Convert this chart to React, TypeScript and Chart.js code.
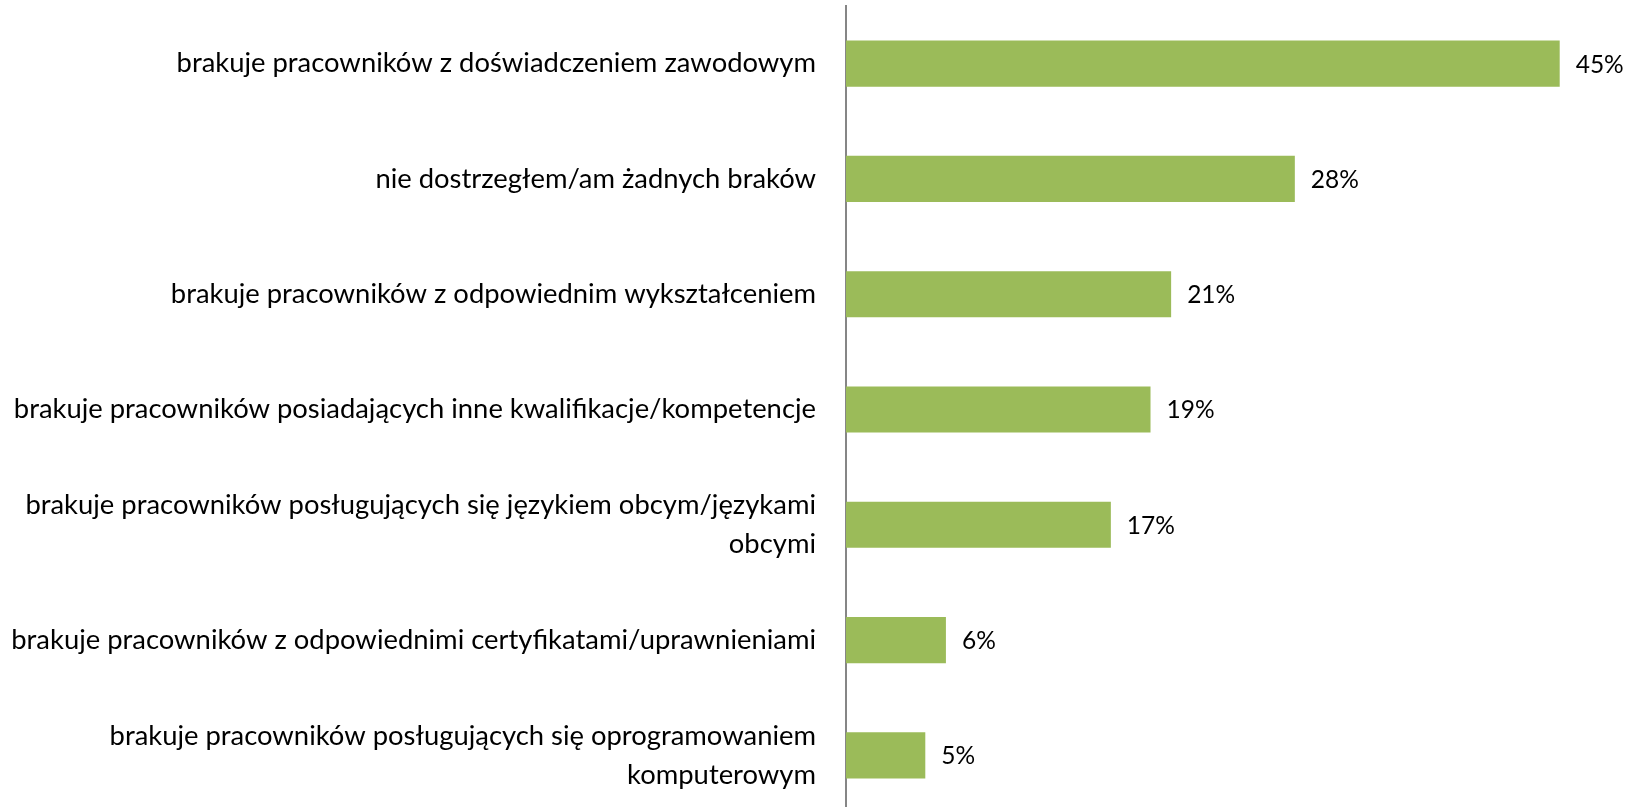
import React, { useEffect, useRef } from "react";
import { Chart, registerables } from "chart.js";

Chart.register(...registerables);

const categories: (string | string[])[] = [
  "brakuje pracowników z doświadczeniem zawodowym",
  "nie dostrzegłem/am żadnych braków",
  "brakuje pracowników z odpowiednim wykształceniem",
  "brakuje pracowników posiadających inne kwalifikacje/kompetencje",
  ["brakuje pracowników posługujących się językiem obcym/językami", "obcymi"],
  "brakuje pracowników z odpowiednimi certyfikatami/uprawnieniami",
  ["brakuje pracowników posługujących się oprogramowaniem", "komputerowym"],
];
const values: number[] = [45.0, 28.3, 20.5, 19.2, 16.7, 6.3, 5.0];
const valueLabels: string[] = ["45%", "28%", "21%", "19%", "17%", "6%", "5%"];

const FONT_FAMILY = "Lato, 'Open Sans', sans-serif";
const LABEL_SIZE = 27.4;
const VALUE_SIZE = 24.5;

const valueLabelPlugin = {
  id: "valueLabels",
  afterDatasetsDraw(chart: any) {
    const ctx = chart.ctx;
    const meta = chart.getDatasetMeta(0);
    ctx.save();
    ctx.font = `${VALUE_SIZE}px ${FONT_FAMILY}`;
    ctx.fillStyle = "#000";
    ctx.textAlign = "left";
    ctx.textBaseline = "middle";
    meta.data.forEach((bar: any, i: number) => {
      ctx.fillText(valueLabels[i], bar.x + 16, bar.y + 1);
    });
    ctx.restore();
  },
};

export default function App() {
  const ref = useRef<HTMLCanvasElement | null>(null);
  useEffect(() => {
    if (!ref.current) return;
    const chart = new Chart(ref.current, {
      type: "bar",
      data: {
        labels: categories,
        datasets: [
          {
            data: values,
            backgroundColor: "#9BBB59",
            borderWidth: 0,
            barPercentage: 0.4,
            categoryPercentage: 1,
          },
        ],
      },
      options: {
        indexAxis: "y",
        animation: false,
        responsive: false,
        maintainAspectRatio: false,
        layout: { padding: { top: 6, right: 0, bottom: 0, left: 0 } },
        plugins: {
          legend: { display: false },
          tooltip: { enabled: false },
        },
        scales: {
          x: {
            display: false,
            min: 0,
            max: 50,
          },
          y: {
            position: "left",
            grid: { display: false },
            border: { display: true, color: "#868686", width: 2 },
            ticks: {
              color: "#000",
              padding: 22,
              font: { family: FONT_FAMILY, size: LABEL_SIZE, lineHeight: 39 / LABEL_SIZE },
            },
            afterFit(scale: any) {
              scale.width = 846;
              scale.paddingTop = 0;
              scale.paddingBottom = 0;
            },
          },
        },
      },
      plugins: [valueLabelPlugin],
    });
    return () => chart.destroy();
  }, []);
  return (
    <div
      style={{
        position: "fixed",
        left: 0,
        top: 0,
        width: 1639,
        height: 807,
        overflow: "hidden",
        background: "#fff",
      }}
    >
      <canvas ref={ref} width={1639} height={813} style={{ display: "block" }} />
    </div>
  );
}
